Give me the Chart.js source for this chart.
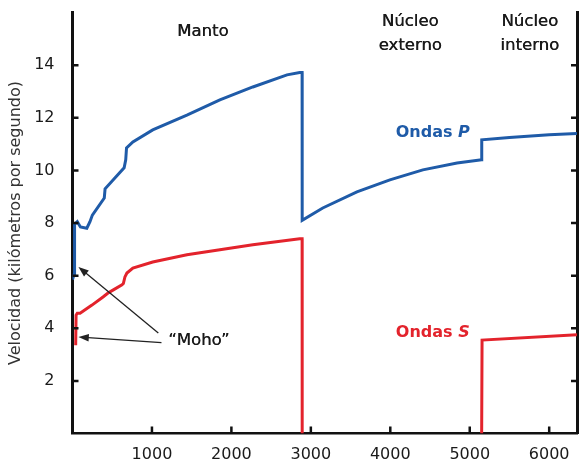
<!DOCTYPE html>
<html>
<head>
<meta charset="utf-8">
<script src="https://cdn.jsdelivr.net/npm/chart.js@4.4.1/dist/chart.umd.min.js"></script>
<style>
  html, body { margin: 0; padding: 0; background: #fff; }
  #wrap { width: 579px; height: 461px; position: relative; }
</style>
</head>
<body>
<div id="wrap"><canvas id="chart"></canvas></div>
<script>
(function () {
    "use strict";

    // depth (km) vs velocity (km/s)
    const pDepth = [0, 20, 22, 30, 60, 100, 180, 220, 250, 400, 410, 650, 670, 680, 760, 1010, 1440, 1855, 2270, 2700, 2860, 2890, 2891, 3150, 3580, 3995, 4410, 4840, 5150, 5151, 5500, 6000, 6350];
    const pVel = [5.85, 6.05, 6.05, 7.95, 8.05, 7.85, 7.8, 8.05, 8.3, 8.95, 9.3, 10.1, 10.4, 10.85, 11.08, 11.54, 12.1, 12.68, 13.17, 13.63, 13.72, 13.72, 8.1, 8.57, 9.18, 9.64, 10.02, 10.28, 10.4, 11.16, 11.25, 11.35, 11.4];

    const sDepth = [40, 45, 60, 95, 245, 384, 447, 509, 623, 640, 660, 685, 760, 1010, 1440, 1855, 2270, 2860, 2890, 2891, 4000, 5150, 5155, 6350];
    const sVel = [3.35, 4.5, 4.57, 4.57, 4.88, 5.19, 5.34, 5.45, 5.65, 5.7, 5.95, 6.1, 6.29, 6.52, 6.79, 6.98, 7.17, 7.4, 7.4, 0, null, 0, 3.55, 3.75];

    const xTicks = [1000, 2000, 3000, 4000, 5000, 6000];
    const yTicks = [2, 4, 6, 8, 10, 12, 14];

    const blue = "#1f5ba8";
    const red = "#e3232c";
    const ink = "#1a1a1a";
    const FONT = "'DejaVu Sans', sans-serif";

    // labels placed in data coordinates
    const notes = [
        { text: ["Manto"], x: 1640, y: 15.27, color: ink },
        { text: ["Núcleo", "externo"], x: 4250, y: 15.65, color: ink },
        { text: ["Núcleo", "interno"], x: 5755, y: 15.65, color: ink },
        { text: ["“Moho”"], x: 1590, y: 3.52, color: ink }
    ];
    const waveNotes = [
        { base: "Ondas ", tag: "P", x: 4535, y: 11.43, color: blue },
        { base: "Ondas ", tag: "S", x: 4535, y: 3.82, color: red }
    ];
    const arrows = [
        { from: [1080, 3.82], to: [75, 6.33] },
        { from: [1120, 3.45], to: [75, 3.67] }
    ];

    const toPoints = (xs, ys) => xs.map((x, i) => ({ x: x, y: ys[i] }));

    const decorations = {
        id: "decorations",
        afterDatasetsDraw(chart) {
            const ctx = chart.ctx;
            const xs = chart.scales.x;
            const ys = chart.scales.y;
            const area = chart.chartArea;

            ctx.save();
            // inward tick marks
            ctx.strokeStyle = "#111";
            ctx.lineWidth = 2.5;
            ctx.beginPath();
            yTicks.forEach((v) => {
                const py = ys.getPixelForValue(v);
                ctx.moveTo(area.left, py);
                ctx.lineTo(area.left + 6, py);
                ctx.moveTo(area.right, py);
                ctx.lineTo(area.right - 6, py);
            });
            xTicks.forEach((v) => {
                const px = xs.getPixelForValue(v);
                ctx.moveTo(px, area.bottom);
                ctx.lineTo(px, area.bottom - 7);
            });
            ctx.stroke();

            // text labels
            ctx.textAlign = "center";
            ctx.textBaseline = "middle";
            notes.forEach((n) => {
                ctx.font = "16.5px " + FONT;
                ctx.fillStyle = n.color;
                const px = xs.getPixelForValue(n.x);
                const py = ys.getPixelForValue(n.y);
                n.text.forEach((line, i) => {
                    // slight double strike for a medium weight look
                    ctx.fillText(line, px, py + i * 24);
                    ctx.fillText(line, px + 0.4, py + i * 24);
                });
            });

            waveNotes.forEach((n) => {
                const px = xs.getPixelForValue(n.x);
                const py = ys.getPixelForValue(n.y);
                ctx.font = "bold 16px " + FONT;
                const w1 = ctx.measureText(n.base).width;
                ctx.font = "italic bold 16px " + FONT;
                const w2 = ctx.measureText(n.tag).width;
                const start = px - (w1 + w2) / 2;
                ctx.textAlign = "left";
                ctx.fillStyle = n.color;
                ctx.font = "bold 16px " + FONT;
                ctx.fillText(n.base, start, py);
                ctx.font = "italic bold 16px " + FONT;
                ctx.fillText(n.tag, start + w1, py);
            });

            // Moho arrows
            ctx.strokeStyle = "#222";
            ctx.fillStyle = "#222";
            ctx.lineWidth = 1.3;
            arrows.forEach((a) => {
                const x1 = xs.getPixelForValue(a.from[0]);
                const y1 = ys.getPixelForValue(a.from[1]);
                const x2 = xs.getPixelForValue(a.to[0]);
                const y2 = ys.getPixelForValue(a.to[1]);
                const ang = Math.atan2(y2 - y1, x2 - x1);
                ctx.beginPath();
                ctx.moveTo(x1, y1);
                ctx.lineTo(x2 - 6 * Math.cos(ang), y2 - 6 * Math.sin(ang));
                ctx.stroke();
                ctx.beginPath();
                ctx.moveTo(x2, y2);
                ctx.lineTo(x2 - 11 * Math.cos(ang - 0.35), y2 - 11 * Math.sin(ang - 0.35));
                ctx.lineTo(x2 - 11 * Math.cos(ang + 0.35), y2 - 11 * Math.sin(ang + 0.35));
                ctx.closePath();
                ctx.fill();
            });
            ctx.restore();
        }
    };

    const ctx = document.getElementById("chart").getContext("2d");

    new Chart(ctx, {
        type: "scatter",
        data: {
            datasets: [
                {
                    label: "Ondas P",
                    data: toPoints(pDepth, pVel),
                    showLine: true,
                    borderColor: blue,
                    borderWidth: 3,
                    pointRadius: 0,
                    tension: 0
                },
                {
                    label: "Ondas S",
                    data: toPoints(sDepth, sVel),
                    showLine: true,
                    spanGaps: false,
                    borderColor: red,
                    borderWidth: 3,
                    pointRadius: 0,
                    tension: 0
                }
            ]
        },
        options: {
            responsive: true,
            maintainAspectRatio: false,
            animation: false,
            layout: {
                padding: { top: 12.5, right: 2, left: 0, bottom: 0 }
            },
            plugins: {
                legend: { display: false },
                tooltip: { enabled: false }
            },
            scales: {
                x: {
                    type: "linear",
                    min: 0,
                    max: 6350,
                    afterBuildTicks: (scale) => {
                        scale.ticks = xTicks.map((v) => ({ value: v }));
                    },
                    afterFit: (scale) => {
                        scale.height = 27.5;
                        scale.paddingLeft = 0;
                        scale.paddingRight = 0;
                    },
                    ticks: {
                        color: ink,
                        padding: 4,
                        maxRotation: 0,
                        callback: (v) => String(v),
                        font: { family: FONT, size: 16 }
                    },
                    grid: { display: false },
                    border: { display: true, color: "#111", width: 2.5 }
                },
                y: {
                    position: "left",
                    min: 0,
                    max: 16,
                    afterBuildTicks: (scale) => {
                        scale.ticks = yTicks.map((v) => ({ value: v }));
                    },
                    afterFit: (scale) => {
                        scale.width = 72.5;
                        scale.paddingTop = 0;
                        scale.paddingBottom = 0;
                    },
                    ticks: {
                        color: ink,
                        padding: 10,
                        font: { family: FONT, size: 16 }
                    },
                    title: {
                        display: true,
                        text: "Velocidad (kilómetros por segundo)",
                        color: "#333",
                        padding: { top: 6, bottom: 0 },
                        font: { family: FONT, size: 16 }
                    },
                    grid: { display: false },
                    border: { display: true, color: "#111", width: 3 }
                },
                y2: {
                    position: "right",
                    min: 0,
                    max: 16,
                    afterFit: (scale) => {
                        scale.width = 0;
                        scale.paddingTop = 0;
                        scale.paddingBottom = 0;
                    },
                    ticks: { display: false },
                    grid: { display: false },
                    border: { display: true, color: "#111", width: 3 }
                }
            }
        },
        plugins: [decorations]
    });
})();
</script>
</body>
</html>
